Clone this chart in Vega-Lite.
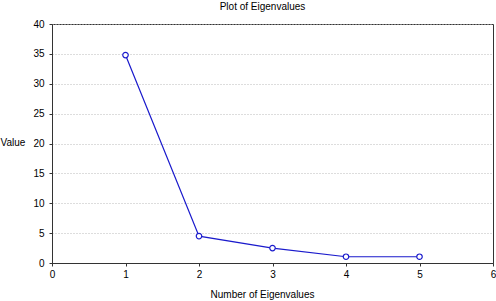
{
  "$schema": "https://vega.github.io/schema/vega-lite/v6.json",
  "autosize": "none",
  "width": 441,
  "height": 239,
  "padding": {"left": 52, "top": 24, "right": 3, "bottom": 38},
  "background": "white",
  "config": {
    "font": "Liberation Sans",
    "view": {"stroke": "#333333", "strokeWidth": 1}
  },
  "title": {
    "text": "Plot of Eigenvalues",
    "fontSize": 10,
    "fontWeight": "normal",
    "color": "#000000",
    "anchor": "middle",
    "dx": -10,
    "offset": 7
  },
  "data": {
    "values": [
      {"n": 1, "value": 34.8},
      {"n": 2, "value": 4.5},
      {"n": 3, "value": 2.5},
      {"n": 4, "value": 1.05},
      {"n": 5, "value": 1.05}
    ]
  },
  "encoding": {
    "x": {
      "field": "n", "type": "quantitative",
      "scale": {"domain": [0, 6], "nice": false},
      "axis": {
        "title": "Number of Eigenvalues", "titleFontSize": 10, "titleFontWeight": "normal",
        "titleColor": "#000", "titlePadding": 10, "titleX": 210,
        "values": [0, 1, 2, 3, 4, 5, 6], "format": "d",
        "labelFontSize": 10, "labelColor": "#000", "labelPadding": 3,
        "tickSize": 3, "tickColor": "#333", "domainColor": "#333",
        "grid": false, "labelFlush": false, "labelOverlap": false
      }
    },
    "y": {
      "field": "value", "type": "quantitative",
      "scale": {"domain": [0, 40], "nice": false},
      "axis": {
        "title": "Value", "titleAngle": 0, "titleFontSize": 10, "titleFontWeight": "normal",
        "titleColor": "#000", "titleX": -52, "titleY": 123, "titleAlign": "left",
        "values": [0, 5, 10, 15, 20, 25, 30, 35, 40], "format": "d",
        "labelFontSize": 10, "labelColor": "#000", "labelPadding": 5,
        "tickSize": 3, "tickColor": "#333", "domainColor": "#333",
        "grid": true, "gridColor": "#bbbbbb", "gridDash": [1, 2], "gridWidth": 1,
        "labelFlush": false, "labelOverlap": false
      }
    }
  },
  "layer": [
    {
      "mark": {"type": "line", "color": "#1a1acc", "strokeWidth": 1.2, "clip": true}
    },
    {
      "mark": {"type": "point", "shape": "circle", "filled": true, "fill": "white", "stroke": "#1a1acc", "strokeWidth": 1.2, "size": 30, "opacity": 1}
    }
  ]
}
